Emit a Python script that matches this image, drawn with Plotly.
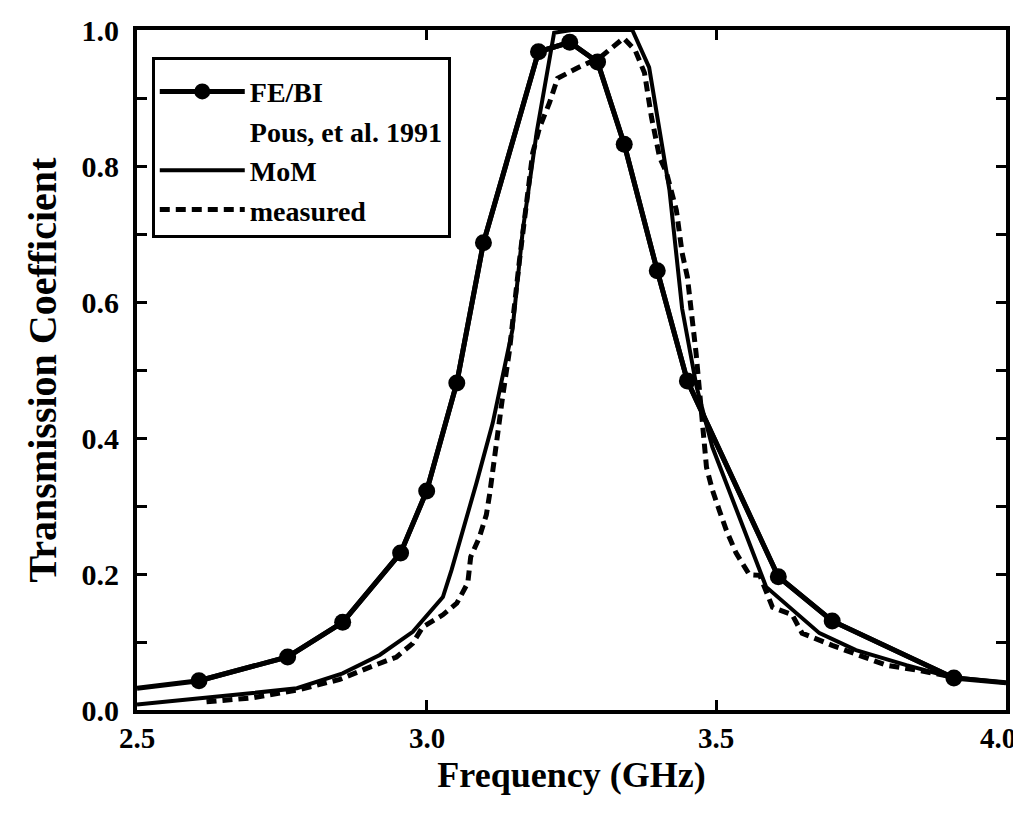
import plotly.graph_objects as go

# data
fe_x = [2.5, 2.607, 2.760, 2.855, 2.955, 3.0, 3.052, 3.098, 3.193, 3.247, 3.295, 3.341, 3.398, 3.450, 3.607, 3.700, 3.910, 4.0]
fe_y = [0.032, 0.043, 0.078, 0.129, 0.231, 0.322, 0.481, 0.687, 0.968, 0.982, 0.953, 0.832, 0.646, 0.484, 0.196, 0.131, 0.047, 0.040]

mom_x = [2.5, 2.6, 2.7, 2.776, 2.855, 2.919, 2.976, 3.028, 3.043, 3.086, 3.114, 3.148, 3.166, 3.19, 3.22,
         3.25, 3.30, 3.355, 3.384, 3.402, 3.419, 3.441, 3.466, 3.493, 3.528, 3.586, 3.678, 3.741, 3.828, 3.902, 4.0]
mom_y = [0.008, 0.016, 0.025, 0.032, 0.054, 0.081, 0.115, 0.166, 0.206, 0.334, 0.422, 0.559, 0.706, 0.85, 0.996,
         1.0, 1.0, 1.0, 0.945, 0.853, 0.765, 0.59, 0.475, 0.387, 0.309, 0.181, 0.113, 0.088, 0.066, 0.049, 0.040]

meas_x = [2.62, 2.70, 2.78, 2.85, 2.902, 2.948, 2.976, 2.993, 3.028, 3.052, 3.071, 3.076, 3.091, 3.103, 3.109,
          3.114, 3.121, 3.131, 3.143, 3.16, 3.183, 3.195, 3.212, 3.226, 3.26, 3.30, 3.34, 3.36, 3.376, 3.388,
          3.402, 3.414, 3.431, 3.441, 3.45, 3.459, 3.465, 3.483, 3.493, 3.505, 3.517, 3.534, 3.557, 3.575,
          3.597, 3.631, 3.648, 3.70, 3.793, 3.85, 3.9]
meas_y = [0.012, 0.018, 0.030, 0.045, 0.063, 0.078, 0.098, 0.122, 0.140, 0.157, 0.187, 0.225, 0.254, 0.287, 0.319,
          0.353, 0.392, 0.46, 0.529, 0.66, 0.819, 0.857, 0.893, 0.929, 0.944, 0.96, 0.988, 0.97, 0.937, 0.872,
          0.813, 0.79, 0.735, 0.672, 0.637, 0.563, 0.525, 0.357, 0.324, 0.294, 0.265, 0.231, 0.199, 0.198,
          0.151, 0.14, 0.113, 0.095, 0.066, 0.058, 0.05]

x_ticks = [2.5, 3.0, 3.5, 4.0]

font = "Liberation Serif"

fig = go.Figure()
# FE/BI line over the full range, markers only at computed points
fig.add_trace(go.Scatter(x=fe_x, y=fe_y, mode="lines", line=dict(color="black", width=5),
                         showlegend=False, legendgroup="a"))
fig.add_trace(go.Scatter(x=fe_x[1:-1], y=fe_y[1:-1], mode="lines+markers", name="FE/BI",
                         line=dict(color="black", width=5), marker=dict(size=17, color="black"),
                         legendgroup="a"))
# header entry in legend
fig.add_trace(go.Scatter(x=[None], y=[None], mode="lines", name="Pous, et al. 1991",
                         line=dict(color="rgba(0,0,0,0)", width=0), legendgroup="b"))
fig.add_trace(go.Scatter(x=mom_x, y=mom_y, mode="lines", name="MoM",
                         line=dict(color="black", width=4), legendgroup="c"))
fig.add_trace(go.Scatter(x=meas_x, y=meas_y, mode="lines", name="measured",
                         line=dict(color="black", width=5, dash="10px,6px"), legendgroup="d"))

axis_common = dict(showline=True, linecolor="black", linewidth=4, mirror="ticks",
                   ticks="inside", tickcolor="black", tickwidth=3, ticklen=10,
                   showgrid=False, zeroline=False)

# x tick labels are drawn as annotations so the last one can end at the page edge, as in the original
fig.update_xaxes(range=[2.5, 4.0], tickvals=x_ticks, showticklabels=False,
                 title=dict(text="<b>Frequency (GHz)</b>", font=dict(family=font, size=36, color="black"),
                            standoff=50),
                 **axis_common)
fig.update_yaxes(range=[0, 1.0], dtick=0.2, tickformat=".1f", ticklabelstandoff=8,
                 tickfont=dict(family=font, size=30, color="black"),
                 minor=dict(dtick=0.1, ticks="inside", ticklen=10, tickwidth=3, tickcolor="black"),
                 title=dict(text="<b>Transmission Coefficient</b>", font=dict(family=font, size=40, color="black"),
                            standoff=14),
                 **axis_common)

for v in x_ticks:
    last = v == x_ticks[-1]
    fig.add_annotation(x=v, y=0, xref="x", yref="paper", text=f"<b>{v:.1f}</b>", showarrow=False,
                       xanchor="right" if last else "center", yanchor="top",
                       xshift=12 if last else 0, yshift=-10,
                       font=dict(family=font, size=29, color="black"))

# page adds an 8px body margin, so margins are shifted to land the frame where the reference has it
fig.update_layout(
    width=1021, height=819,
    margin=dict(l=129, r=23, t=22, b=117, autoexpand=False),
    plot_bgcolor="white", paper_bgcolor="white",
    font=dict(family=font, color="black", size=24, weight="bold"),
    legend=dict(x=0.017, y=0.96, xanchor="left", yanchor="top",
                bordercolor="black", borderwidth=3, bgcolor="white",
                title=dict(text=" ", font=dict(size=5)),
                font=dict(family=font, size=28, color="black", weight="bold"),
                tracegroupgap=0, traceorder="grouped", itemwidth=85),
)

fig.write_html("out.html")
